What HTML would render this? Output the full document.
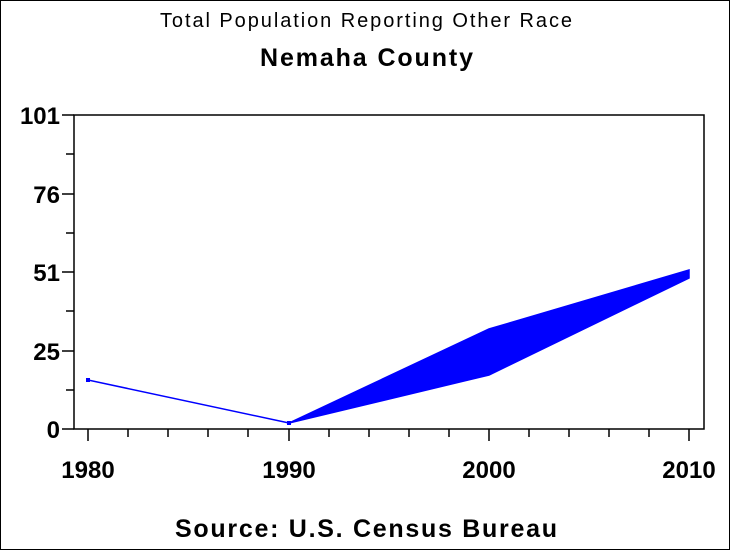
<!DOCTYPE html>
<html><head><style>body{margin:0;background:#fff}svg{display:block}</style></head><body>
<svg width="733" height="550" xmlns="http://www.w3.org/2000/svg" font-family="Liberation Sans, Arial, sans-serif">
<rect x="0.5" y="0.5" width="729" height="549" fill="#fff" stroke="#000"/>
<text x="160" y="27" font-size="20" textLength="412" lengthAdjust="spacing">Total Population Reporting Other Race</text>
<text x="260" y="66" font-size="25" font-weight="bold" textLength="213" lengthAdjust="spacing">Nemaha County</text>
<rect x="74" y="115" width="630" height="314" fill="none" stroke="#000" stroke-width="1.5"/>
<g stroke="#000" stroke-width="1.5">
<line x1="62" y1="115" x2="74" y2="115"/><line x1="62" y1="194" x2="74" y2="194"/><line x1="62" y1="272" x2="74" y2="272"/><line x1="62" y1="351" x2="74" y2="351"/><line x1="62" y1="429" x2="74" y2="429"/>
<line x1="66" y1="154" x2="74" y2="154"/><line x1="66" y1="233" x2="74" y2="233"/><line x1="66" y1="311" x2="74" y2="311"/><line x1="66" y1="390" x2="74" y2="390"/>
<line x1="88" y1="429" x2="88" y2="441"/><line x1="289" y1="429" x2="289" y2="441"/><line x1="489" y1="429" x2="489" y2="441"/><line x1="689" y1="429" x2="689" y2="441"/>
<line x1="128" y1="429" x2="128" y2="437"/><line x1="168" y1="429" x2="168" y2="437"/><line x1="208" y1="429" x2="208" y2="437"/><line x1="248" y1="429" x2="248" y2="437"/>
<line x1="329" y1="429" x2="329" y2="437"/><line x1="369" y1="429" x2="369" y2="437"/><line x1="409" y1="429" x2="409" y2="437"/><line x1="449" y1="429" x2="449" y2="437"/>
<line x1="529" y1="429" x2="529" y2="437"/><line x1="569" y1="429" x2="569" y2="437"/><line x1="609" y1="429" x2="609" y2="437"/><line x1="649" y1="429" x2="649" y2="437"/>
</g>
<g font-size="24" font-weight="bold" text-anchor="end">
<text x="60" y="124">101</text><text x="60" y="203">76</text><text x="60" y="281">51</text><text x="60" y="360">25</text><text x="60" y="438">0</text>
</g>
<g font-size="24" font-weight="bold" text-anchor="middle">
<text x="88" y="478">1980</text><text x="289" y="478">1990</text><text x="489" y="478">2000</text><text x="689" y="478">2010</text>
</g>
<polyline points="88,380 289,423" fill="none" stroke="#00f" stroke-width="1.5"/>
<polygon points="289,423 489,329 689,270 689,278 489,375" fill="#00f" stroke="#00f" stroke-width="1.5"/>
<g fill="#00f"><rect x="86" y="378" width="4" height="4"/><rect x="287" y="421" width="4" height="4"/></g>
<text x="175" y="537" font-size="25" font-weight="bold" textLength="382" lengthAdjust="spacing">Source: U.S. Census Bureau</text>
</svg>
</body></html>
